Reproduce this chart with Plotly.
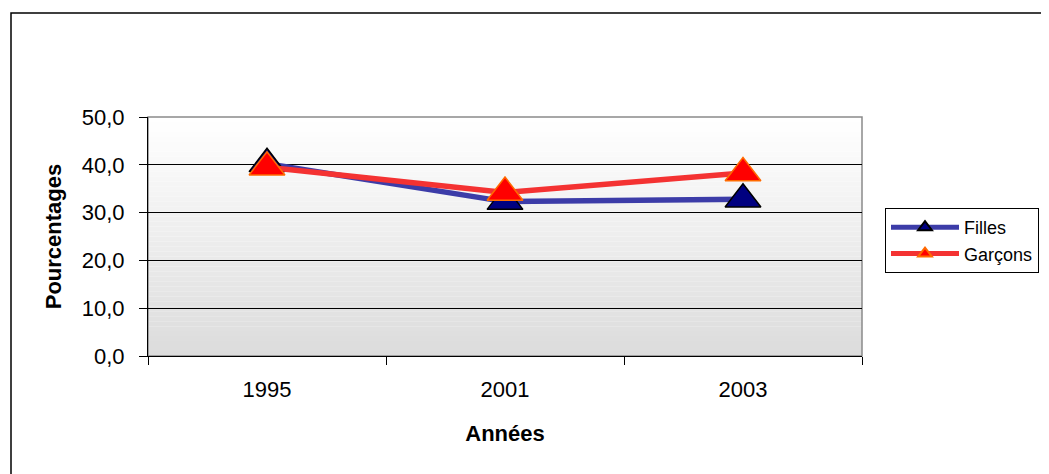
import plotly.graph_objects as go

years = ["1995", "2001", "2003"]
filles = [40.2, 32.3, 32.8]
garcons = [39.5, 34.2, 38.3]
y_ticks = [0, 10, 20, 30, 40, 50]

OFF = 8  # default page body margin
W, H = 1049 - OFF, 474 - OFF
L, R, T, B = 148 - OFF, 862 - OFF, 117 - OFF, 356 - OFF
pw, ph = R - L, B - T


def px_x(x):
    return (x - OFF - L) / pw


def px_y(y):
    return (B - (y - OFF)) / ph


fig = go.Figure()

fig.add_trace(go.Scatter(
    x=years, y=filles, name="Filles", mode="lines+markers",
    line=dict(color="#3c3ca8", width=5.5),
    marker=dict(symbol="triangle-up", size=31, color="#000080",
                line=dict(color="#000000", width=1.5)),
))
fig.add_trace(go.Scatter(
    x=years, y=garcons, name="Garçons", mode="lines+markers",
    line=dict(color="#f43232", width=5.5),
    marker=dict(symbol="triangle-up", size=31, color="#ff0000",
                line=dict(color="#ff6a00", width=1.5)),
))

shapes = []
n = 48
for i in range(n):
    t = i / (n - 1)
    c = int(round(255 - t * (255 - 220)))
    shapes.append(dict(type="rect", xref="paper", yref="paper",
                       x0=0, x1=1, y0=1 - (i + 1) / n, y1=1 - i / n,
                       fillcolor=f"rgb({c},{c},{c})", line=dict(width=0),
                       layer="below"))
shapes.append(dict(type="rect", xref="paper", yref="paper", x0=0, x1=1, y0=0, y1=1,
                   line=dict(color="#8a8a8a", width=1.5), layer="below"))
shapes.append(dict(type="rect", xref="paper", yref="paper",
                   x0=px_x(11), x1=px_x(1049 + 30), y0=px_y(474 + 30), y1=px_y(13),
                   line=dict(color="#000000", width=1.5), layer="below"))

fig.update_layout(
    width=W, height=H,
    margin=dict(l=L, r=W - R, t=T, b=H - B, autoexpand=False),
    paper_bgcolor="white", plot_bgcolor="rgba(0,0,0,0)",
    separators=", ",
    font=dict(family="Liberation Sans, Arial, sans-serif", color="black", size=22),
    shapes=shapes,
    showlegend=True,
    legend=dict(x=px_x(885), y=px_y(208), xanchor="left", yanchor="top",
                bgcolor="white", bordercolor="#000000", borderwidth=1,
                font=dict(size=18), tracegroupgap=0, itemwidth=68,
                itemsizing="constant"),
    xaxis=dict(type="category", range=[-0.5, 2.5], tickson="boundaries",
               ticks="outside", ticklen=8, tickcolor="black",
               showline=True, linecolor="black", linewidth=1,
               showgrid=False, tickfont=dict(size=22), ticklabelstandoff=14,
               title=dict(text="<b>Années</b>", font=dict(size=22), standoff=24)),
    yaxis=dict(range=[0, 50], tickvals=y_ticks, tickformat=".1f",
               ticks="outside", ticklen=8, tickcolor="black",
               showline=True, linecolor="black", linewidth=1,
               showgrid=True, gridcolor="black", gridwidth=1, zeroline=False,
               tickfont=dict(size=22), ticklabelstandoff=10,
               title=dict(text="<b>Pourcentages</b>", font=dict(size=22), standoff=14)),
)

fig.write_html("out.html")
